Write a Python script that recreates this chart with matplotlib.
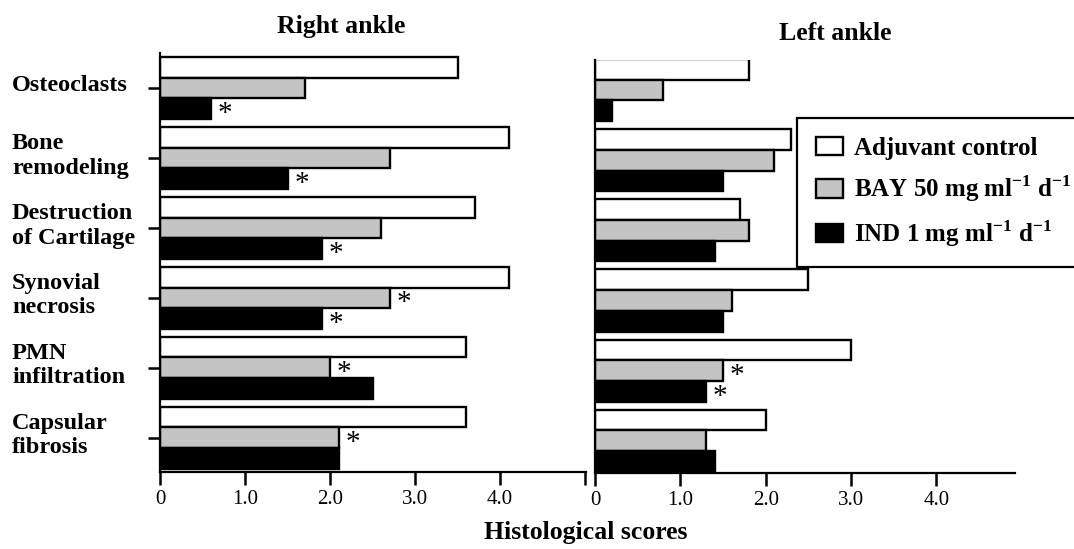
import matplotlib
matplotlib.use('Agg')
import matplotlib.pyplot as plt
from matplotlib.patches import Patch
from matplotlib import transforms
import numpy as np

plt.rcParams['font.family'] = ['Liberation Serif', 'DejaVu Serif']
plt.rcParams['mathtext.fontset'] = 'custom'
plt.rcParams['mathtext.rm'] = 'Liberation Serif'
plt.rcParams['mathtext.bf'] = 'Liberation Serif:bold'

### data

categories = ['Osteoclasts', 'Bone\nremodeling', 'Destruction\nof Cartilage',
              'Synovial\nnecrosis', 'PMN\ninfiltration', 'Capsular\nfibrosis']

# right ankle
right_control = [3.5, 4.1, 3.7, 4.1, 3.6, 3.6]
right_bay = [1.7, 2.7, 2.6, 2.7, 2.0, 2.1]
right_ind = [0.6, 1.5, 1.9, 1.9, 2.5, 2.1]

# left ankle
left_control = [1.8, 2.3, 1.7, 2.5, 3.0, 2.0]
left_bay = [0.8, 2.1, 1.8, 1.6, 1.5, 1.3]
left_ind = [0.2, 1.5, 1.4, 1.5, 1.3, 1.4]

# significance stars (True = *)
right_bay_star = [False, False, False, True, True, True]
right_ind_star = [True, True, True, True, False, False]
left_bay_star = [False, False, False, False, True, False]
left_ind_star = [False, False, False, False, True, False]

xticks = [0, 1, 2, 3, 4]
xticklabels = ['0', '1.0', '2.0', '3.0', '4.0']

series_names = ['Adjuvant control',
                r'BAY 50 mg ml$^{\mathbf{-1}}$ d$^{\mathbf{-1}}$',
                r'IND 1 mg ml$^{\mathbf{-1}}$ d$^{\mathbf{-1}}$']
series_colors = ['white', '#c4c4c4', 'black']

### end data

W, H = 1074, 549
fig = plt.figure(figsize=(W / 100, H / 100), dpi=100)

def px_axes(x0, y0, x1, y1):
    # axes box given in pixel coords (top-left origin)
    return fig.add_axes([x0 / W, 1 - y1 / H, (x1 - x0) / W, (y1 - y0) / H])

axR = px_axes(160, 53, 586, 472)
axL = px_axes(595, 60, 1015, 473)

bh = 0.295
lw = 1.7
pos = np.arange(len(categories))


def draw_panel(ax, vals, stars, xmax, ylim):
    for k, (v, c) in enumerate(zip(vals, series_colors)):
        ax.barh(pos + (k - 1) * bh, v, height=bh, color=c,
                edgecolor='black', linewidth=lw, zorder=2)
    # asterisks
    for k, st in stars:
        for i in range(len(categories)):
            if st[i]:
                ax.annotate('*', xy=(vals[k][i], pos[i] + (k - 1) * bh),
                            xytext=(10, -4), textcoords='offset points',
                            ha='center', va='center', fontsize=21)
    ax.set_xlim(0, xmax)
    ax.set_ylim(*ylim)
    for s in ['top', 'right']:
        ax.spines[s].set_visible(False)
    for s in ['left', 'bottom']:
        ax.spines[s].set_linewidth(1.6)
    ax.tick_params(axis='x', direction='out', length=9, width=1.8,
                   labelsize=15, pad=4)


draw_panel(axR, [right_control, right_bay, right_ind],
           [(1, right_bay_star), (2, right_ind_star)], 5.01, (5.49, -0.5))
axR.set_xticks(xticks + [5])
axR.set_xticklabels(xticklabels + [''])
axR.set_yticks(pos)
axR.set_yticklabels([])
axR.tick_params(axis='y', direction='out', length=9, width=1.8)

draw_panel(axL, [left_control, left_bay, left_ind],
           [(1, left_bay_star), (2, left_ind_star)], 4.92, (5.46, -0.43))
axL.set_xticks(xticks)
axL.set_xticklabels(xticklabels)
axL.set_yticks([])

# category labels, left aligned at the figure edge
trans = transforms.blended_transform_factory(fig.transFigure, axR.transData)
for i, name in enumerate(categories):
    fig.text(12 / W, pos[i] - 0.03, name, transform=trans, ha='left', va='center',
             fontsize=17.5, fontweight='bold', linespacing=1.22)

fig.text(341 / W, 1 - 27 / H, 'Right ankle', ha='center', va='center',
         fontsize=18.5, fontweight='bold')
fig.text(835 / W, 1 - 33 / H, 'Left ankle', ha='center', va='center',
         fontsize=18.5, fontweight='bold')
fig.text(586 / W, 1 - 533 / H, 'Histological scores', ha='center', va='center',
         fontsize=18.5, fontweight='bold')

handles = [Patch(facecolor=c, edgecolor='black', linewidth=lw) for c in series_colors]
leg = fig.legend(handles, series_names, loc='upper left',
                 bbox_to_anchor=(797 / W, 1 - 118 / H), borderaxespad=0,
                 prop={'size': 18, 'weight': 'bold'}, frameon=True,
                 fancybox=False, edgecolor='black', framealpha=1,
                 handlelength=1.1, handleheight=0.75, handletextpad=0.45,
                 borderpad=0.75, labelspacing=0.55)
leg.get_frame().set_linewidth(1.6)

fig.savefig('out.png', dpi=100)
